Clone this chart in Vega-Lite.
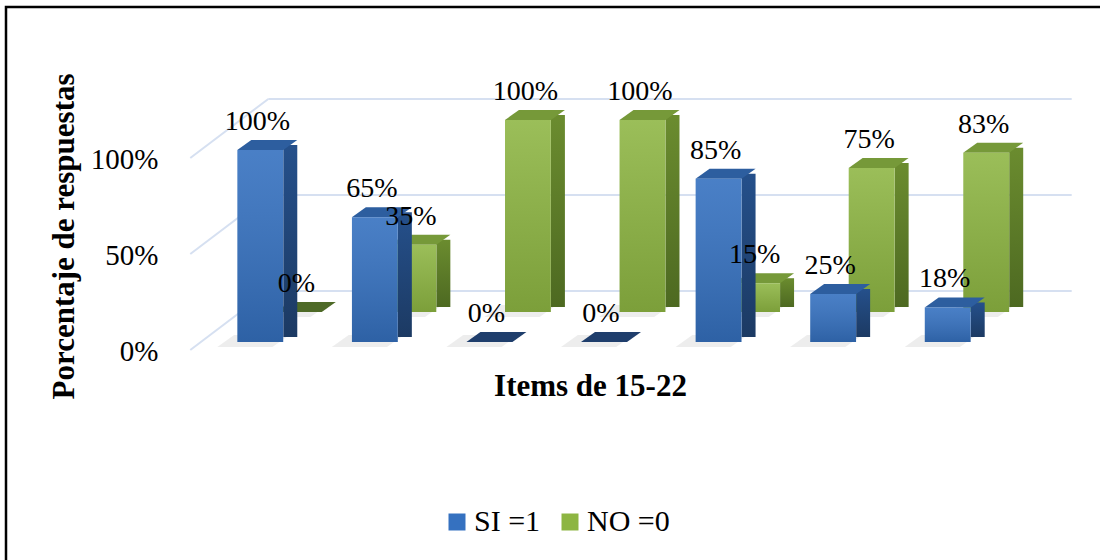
{
  "$schema": "https://vega.github.io/schema/vega-lite/v6.json",
  "width": 1100,
  "height": 560,
  "autosize": {"type": "none"},
  "padding": {"left": 6, "top": 7, "right": 0, "bottom": 0},
  "background": "white",
  "config": {
    "view": {"stroke": "#000000", "strokeWidth": 2.5},
    "font": "Liberation Serif",
    "axis": {"grid": false, "domain": false, "ticks": false, "tickSize": 0, "labelColor": "#000000", "titleColor": "#000000",
      "labelFont": "Liberation Serif", "titleFont": "Liberation Serif", "titleFontWeight": "bold", "titleFontSize": 31},
    "axisX": {"labels": false, "titleX": 584, "titleY": -172, "titleBaseline": "alphabetic", "titleAlign": "center"},
    "axisY": {"format": ".0%", "offset": -152, "labelPadding": 0, "labelOffset": 9, "labelAlign": "right",
      "labelFontSize": 29, "titleX": -94, "titleY": 229, "titleBaseline": "middle", "titleAngle": 270}
  },
  "data": {
    "values": [
      {"item": "15", "SI": 1.0, "NO": 0.0},
      {"item": "16", "SI": 0.65, "NO": 0.35},
      {"item": "17", "SI": 0.0, "NO": 1.0},
      {"item": "18", "SI": 0.0, "NO": 1.0},
      {"item": "19", "SI": 0.85, "NO": 0.15},
      {"item": "20", "SI": 0.25, "NO": 0.75},
      {"item": "21", "SI": 0.18, "NO": 0.83}
    ]
  },
  "encoding": {
    "x": {"field": "item", "type": "nominal", "title": "Items de 15-22",
      "scale": {"domain": ["15", "16", "17", "18", "19", "20", "21"], "range": [197, 999], "paddingInner": 0, "paddingOuter": 0}}
  },
  "layer": [
    {
      "data": {"values": [{"t": 0}, {"t": 0.5}, {"t": 1}]},
      "mark": {"type": "rule", "color": "#d6e0f1", "strokeWidth": 2, "yOffset": -51, "xOffset": 8, "x2Offset": 124},
      "encoding": {
        "x": {"datum": "15", "type": "nominal", "title": "Items de 15-22"},
        "x2": {"datum": "21"},
        "y": {"field": "t", "type": "quantitative", "title": "Porcentaje de respuestas",
          "scale": {"domain": [0, 1], "range": [335, 143], "nice": false, "zero": true},
          "axis": {"values": [0, 0.5, 1]}}
      }
    },
    {
      "data": {"values": [{"t": 0}, {"t": 0.5}, {"t": 1}]},
      "mark": {"type": "rule", "color": "#d6e0f1", "strokeWidth": 2, "xOffset": -70, "x2Offset": 8, "yOffset": 8, "y2Offset": -51},
      "encoding": {
        "x": {"datum": "15", "type": "nominal", "title": "Items de 15-22"},
        "x2": {"datum": "15"},
        "y": {"field": "t", "type": "quantitative", "title": "Porcentaje de respuestas", "axis": {"values": [0, 0.5, 1]}},
        "y2": {"field": "t"}
      }
    },
    {
      "mark": {"type": "point", "filled": true, "color": "#000000", "opacity": 0.07, "strokeWidth": 0, "size": 5200, "xOffset": 31, "yOffset": -31,
        "shape": "M -1 0.1667 L 0.5333 0.1667 L 1 -0.1667 L -0.5333 -0.1667 Z"},
      "encoding": {
        "y": {"datum": 0, "type": "quantitative"}
      }
    },
    {
      "mark": {"type": "bar", "xOffset": 68.5, "yOffset": -35, "y2Offset": -35, "width": {"band": 0.122},
        "color": {"gradient": "linear", "x1": 0, "y1": 0, "x2": 0, "y2": 1, "stops": [{"offset": 0, "color": "#6b8c2f"}, {"offset": 1, "color": "#4d6921"}]}},
      "encoding": {
        "y": {"field": "NO", "type": "quantitative", "title": "Porcentaje de respuestas", "axis": {"values": [0, 0.5, 1]}},
        "y2": {"datum": 0}
      }
    },
    {
      "mark": {"type": "point", "filled": true, "opacity": 1, "strokeWidth": 0, "size": 3600, "xOffset": 45.5, "yOffset": -35,
        "shape": "M -1 0.1667 L 0.5333 0.1667 L 1 -0.1667 L -0.5333 -0.1667 Z"},
      "encoding": {
        "y": {"field": "NO", "type": "quantitative", "title": "Porcentaje de respuestas", "axis": {"values": [0, 0.5, 1]}},
        "color": {"condition": {"test": "datum.NO === 0", "value": "#4e6a27"}, "value": "#769939"}
      }
    },
    {
      "mark": {"type": "bar", "xOffset": 38.5, "yOffset": -30, "y2Offset": -30, "width": {"band": 0.4}},
      "encoding": {
        "y": {"field": "NO", "type": "quantitative", "title": "Porcentaje de respuestas", "axis": {"values": [0, 0.5, 1]}},
        "y2": {"datum": 0},
        "color": {"datum": "NO =0", "type": "nominal",
          "scale": {"domain": ["SI =1", "NO =0"], "range": ["#3571c0", "#8db542"]},
          "legend": {"orient": "none", "legendX": 436, "legendY": 500, "direction": "horizontal", "title": null,
            "symbolType": "square", "symbolSize": 289, "symbolStrokeWidth": 0,
            "labelFont": "Liberation Serif", "labelFontSize": 30, "labelColor": "#000000",
            "columnPadding": 14, "labelOffset": 2}}
      }
    },
    {
      "mark": {"type": "bar", "xOffset": 38.5, "yOffset": -30, "y2Offset": -30, "width": {"band": 0.4},
        "color": {"gradient": "linear", "x1": 0, "y1": 0, "x2": 0, "y2": 1, "stops": [{"offset": 0, "color": "rgba(255,255,255,0.12)"}, {"offset": 1, "color": "rgba(0,0,0,0.12)"}]}},
      "encoding": {
        "y": {"field": "NO", "type": "quantitative", "title": "Porcentaje de respuestas", "axis": {"values": [0, 0.5, 1]}},
        "y2": {"datum": 0}
      }
    },
    {
      "mark": {"type": "point", "filled": true, "color": "#000000", "opacity": 0.07, "strokeWidth": 0, "size": 5200, "xOffset": -7, "yOffset": -1,
        "shape": "M -1 0.1667 L 0.5333 0.1667 L 1 -0.1667 L -0.5333 -0.1667 Z"},
      "encoding": {
        "y": {"datum": 0, "type": "quantitative"}
      }
    },
    {
      "mark": {"type": "bar", "xOffset": 30, "yOffset": -5, "y2Offset": -5, "width": {"band": 0.122},
        "color": {"gradient": "linear", "x1": 0, "y1": 0, "x2": 0, "y2": 1, "stops": [{"offset": 0, "color": "#25508b"}, {"offset": 1, "color": "#1c3a63"}]}},
      "encoding": {
        "y": {"field": "SI", "type": "quantitative", "title": "Porcentaje de respuestas", "axis": {"values": [0, 0.5, 1]}},
        "y2": {"datum": 0}
      }
    },
    {
      "mark": {"type": "point", "filled": true, "opacity": 1, "strokeWidth": 0, "size": 3600, "xOffset": 7, "yOffset": -5,
        "shape": "M -1 0.1667 L 0.5333 0.1667 L 1 -0.1667 L -0.5333 -0.1667 Z"},
      "encoding": {
        "y": {"field": "SI", "type": "quantitative", "title": "Porcentaje de respuestas", "axis": {"values": [0, 0.5, 1]}},
        "color": {"condition": {"test": "datum.SI === 0", "value": "#1f3e6c"}, "value": "#2d5e9f"}
      }
    },
    {
      "mark": {"type": "bar", "width": {"band": 0.4}},
      "encoding": {
        "y": {"field": "SI", "type": "quantitative", "title": "Porcentaje de respuestas", "axis": {"values": [0, 0.5, 1]}},
        "y2": {"datum": 0},
        "color": {"datum": "SI =1", "type": "nominal"}
      }
    },
    {
      "mark": {"type": "bar", "width": {"band": 0.4},
        "color": {"gradient": "linear", "x1": 0, "y1": 0, "x2": 0, "y2": 1, "stops": [{"offset": 0, "color": "rgba(255,255,255,0.1)"}, {"offset": 1, "color": "rgba(0,0,0,0.14)"}]}},
      "encoding": {
        "y": {"field": "SI", "type": "quantitative", "title": "Porcentaje de respuestas", "axis": {"values": [0, 0.5, 1]}},
        "y2": {"datum": 0}
      }
    },
    {
      "mark": {"type": "text", "xOffset": 36, "yOffset": -58, "fontSize": 28, "font": "Liberation Serif", "baseline": "middle", "align": "center", "color": "#000000"},
      "encoding": {
        "y": {"field": "NO", "type": "quantitative", "title": "Porcentaje de respuestas", "axis": {"values": [0, 0.5, 1]}},
        "text": {"field": "NO", "type": "quantitative", "format": ".0%"}
      }
    },
    {
      "mark": {"type": "text", "xOffset": -3, "yOffset": -28, "fontSize": 28, "font": "Liberation Serif", "baseline": "middle", "align": "center", "color": "#000000"},
      "encoding": {
        "y": {"field": "SI", "type": "quantitative", "title": "Porcentaje de respuestas", "axis": {"values": [0, 0.5, 1]}},
        "text": {"field": "SI", "type": "quantitative", "format": ".0%"}
      }
    }
  ]
}
